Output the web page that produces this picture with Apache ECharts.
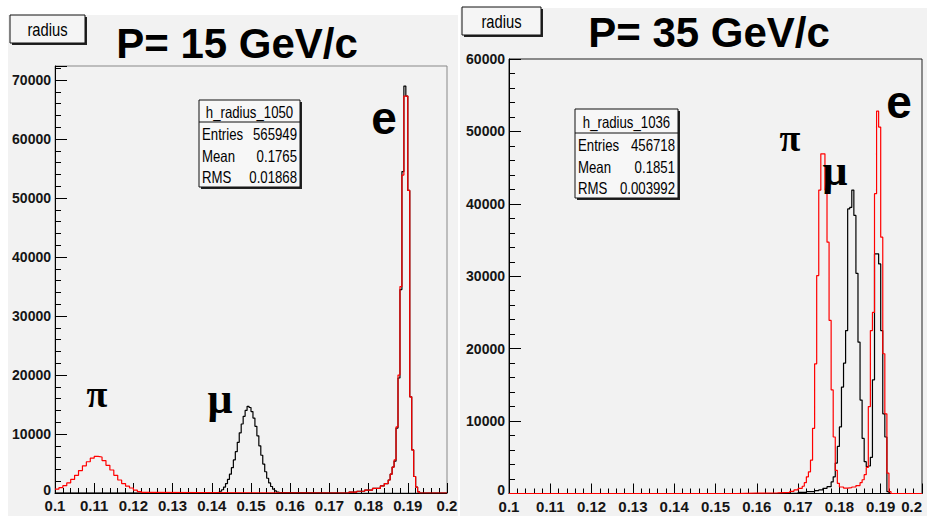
<!DOCTYPE html>
<html>
<head>
<meta charset="utf-8">
<script src="https://cdn.jsdelivr.net/npm/echarts@6/dist/echarts.min.js"></script>
<style>
html,body{margin:0;padding:0;background:#fff;}
#wrap{position:relative;width:927px;height:516px;overflow:hidden;background:#fff;}
.pad{position:absolute;background:#f2f2f2;}
#chart{position:absolute;left:0;top:0;width:927px;height:516px;}
</style>
</head>
<body>
<div id="wrap">
  <div class="pad" style="left:8px;top:15px;width:450px;height:501px;"></div>
  <div class="pad" style="left:460px;top:8px;width:467px;height:508px;"></div>
  <div id="chart"></div>
</div>
<script>
// ---------------- DATA ----------------
// Left pad: P = 15 GeV/c  (bin left edges and contents)
const leftRedX = [0.100,0.101,0.102,0.103,0.104,0.105,0.106,0.107,0.108,0.109,0.110,0.111,0.112,0.113,0.114,0.115,0.116,0.117,0.118,0.119,0.120,0.121,0.122,0.123,
  0.175,0.177,0.179,0.181,0.183,0.184,0.185,0.1855,0.186,0.1865,0.187,0.1875,0.188,0.1885,0.189,0.1895,0.190,0.1905,0.191,0.1915,0.192,0.1925,0.193,0.200];
const leftRedY = [650,900,1250,1700,2300,3000,3800,4600,5300,5900,6200,6100,5500,4700,3900,3000,2200,1600,1150,850,500,250,100,0,
  150,300,500,800,1200,1600,2200,3200,4400,5600,11200,20000,35000,53900,67300,67300,51300,16300,7300,2800,1000,200,0,0];

const leftBlackX = [0.100,0.141,0.1415,0.142,0.1425,0.143,0.1435,0.144,0.1445,0.145,0.1455,0.146,0.1465,0.147,0.1475,0.148,0.1485,0.149,0.1495,0.150,0.1505,0.151,0.1515,0.152,0.1525,0.153,0.1535,0.154,0.1545,0.155,0.1555,0.156,0.1565,0.157,0.1575,
  0.175,0.177,0.179,0.181,0.183,0.184,0.185,0.1855,0.186,0.1865,0.187,0.1875,0.188,0.1885,0.189,0.1895,0.190,0.1905,0.191,0.1915,0.192,0.1925,0.193,0.200];
const leftBlackY = [0,50,150,300,550,1000,1600,2300,3200,4300,5600,7000,8600,10200,11700,13000,14000,14700,14500,13800,12700,11300,9700,8000,6400,4900,3600,2500,1700,1100,650,350,150,50,0,
  150,300,500,800,1200,1600,2200,3200,4400,5400,11000,19500,34500,54500,69000,67300,51300,16300,7300,2800,1000,200,0,0];

// Right pad: P = 35 GeV/c
const rightRedX = [0.100,0.155,0.160,0.165,0.168,0.169,0.170,0.171,0.1715,0.172,0.1725,0.173,0.1735,0.174,0.1745,0.175,0.1755,0.176,0.1765,0.177,0.1775,0.178,0.1785,0.179,0.1795,
  0.180,0.181,0.182,0.183,0.184,0.185,0.1855,0.186,0.1865,0.187,0.1875,0.188,0.1885,0.189,0.1895,0.190,0.1905,0.191,0.1915,0.192,0.1925,0.200];
const rightRedY = [0,50,80,150,300,500,700,1000,1500,2300,3000,4600,9000,17900,30100,41900,46900,46900,41900,34700,23900,14300,7800,3200,1400,
  900,750,800,900,1100,1500,1900,2600,3600,12000,22500,25000,41400,52800,50600,35400,19300,11000,2800,250,0,0];

const rightBlackX = [0.100,0.165,0.170,0.172,0.174,0.175,0.176,0.177,0.178,0.1785,0.179,0.1795,0.180,0.1805,0.181,0.1815,0.182,0.1825,0.183,0.1835,0.184,0.1845,0.185,0.1855,0.186,0.1865,
  0.187,0.1875,0.188,0.1885,0.189,0.1895,0.190,0.1905,0.191,0.1915,0.192,0.200];
const rightBlackY = [0,50,150,250,400,500,700,940,1600,2300,4200,6500,9200,14700,18000,22500,39300,39500,41900,38400,30400,20900,12900,7600,4400,3700,
  3800,5000,15700,33100,33100,31700,22500,11000,7800,250,0,0];

// Axis settings / labels
const xMin = 0.1, xMax = 0.2, xStep = 0.01;
const leftYMax = 72400, rightYMax = 60000, yStep = 10000;
const titles = ['P= 15 GeV/c', 'P= 35 GeV/c'];
const statsLeft = {name:'h_radius_1050', rows:[['Entries','565949'],['Mean','0.1765'],['RMS','0.01868']]};
const statsRight = {name:'h_radius_1036', rows:[['Entries','456718'],['Mean','0.1851'],['RMS','0.003992']]};

// ---------------- CHART ----------------
const SANS = "'Liberation Sans',Arial,sans-serif";
const SERIF = "'Liberation Serif','Times New Roman',serif";
const NX = 0.8; // horizontal squeeze to imitate the narrow ROOT font

function pairs(xs, ys){ return xs.map((x,i)=>[x, ys[i]]); }

function xAxisCfg(gi, alignLast){
  const lab = {color:'#151515', fontFamily:SANS, fontWeight:'bold', fontSize:15, margin:5,
      formatter: v => String(+v.toFixed(3))};
  if (alignLast) lab.alignMaxLabel = 'right';
  return {
    type:'value', gridIndex:gi, min:xMin, max:xMax, interval:xStep,
    axisLine:{show:true, onZero:false, lineStyle:{color:'#000', width:1}},
    axisTick:{show:true, inside:true, length:10, lineStyle:{color:'#000'}},
    minorTick:{show:true, splitNumber:5, length:5, lineStyle:{color:'#000'}},
    splitLine:{show:false},
    axisLabel: lab
  };
}
function yAxisCfg(gi, max, showMax){
  return {
    type:'value', gridIndex:gi, min:0, max:max, interval:yStep,
    axisLine:{show:true, lineStyle:{color:'#000', width:1}},
    axisTick:{show:true, inside:true, length:12, lineStyle:{color:'#000'}},
    minorTick:{show:true, splitNumber:5, length:6, lineStyle:{color:'#000'}},
    splitLine:{show:false},
    axisLabel:{color:'#151515', fontFamily:SANS, fontWeight:'bold', fontSize:14, margin:4, showMaxLabel:showMax,
      formatter: v => (v === 0 ? '{z|0}' : (v % yStep === 0 ? String(v) : '')),
      rich:{z:{fontFamily:SANS, fontWeight:'bold', fontSize:14, color:'#151515', padding:[0,0,7,0]}}}
  };
}
function hist(xi, xs, ys, color){
  return {
    type:'line', xAxisIndex:xi, yAxisIndex:xi, data:pairs(xs,ys), step:'end',
    showSymbol:false, symbol:'none', animation:false, silent:true,
    lineStyle:{color:color, width:1.2}, z: color === '#ff0000' ? 4 : 3
  };
}
function txt(t, x, y, font, align, sx){
  return {type:'text', x:x, y:y, scaleX:sx || 1, style:{text:t, font:font, fill:'#000', textAlign:align, textVerticalAlign:'middle'}, z:102};
}
function statsBox(x, y, w, h, hdr, s){
  const els = [];
  els.push({type:'rect', shape:{x:x+2, y:y+2, width:w, height:h}, style:{fill:'#222'}, z:100});
  els.push({type:'rect', shape:{x:x, y:y, width:w, height:h}, style:{fill:'#f7f7f7', stroke:'#111', lineWidth:1}, z:101});
  els.push({type:'line', shape:{x1:x, y1:y+hdr, x2:x+w, y2:y+hdr}, style:{stroke:'#111', lineWidth:1}, z:102});
  els.push(txt(s.name, x+w/2, y+hdr/2+1, '16.5px '+SANS, 'center', NX));
  const rowH = (h-hdr)/3;
  s.rows.forEach((r,i)=>{
    const cy = y+hdr+rowH*(i+0.5)+1;
    els.push(txt(r[0], x+3, cy, '16.5px '+SANS, 'left', NX));
    els.push(txt(r[1], x+w-3, cy, '16.5px '+SANS, 'right', NX));
  });
  return els;
}
function nameBox(x, y, w, h){
  return [
    {type:'rect', shape:{x:x+2, y:y+2, width:w, height:h}, style:{fill:'#222'}, z:100},
    {type:'rect', shape:{x:x, y:y, width:w, height:h}, style:{fill:'#f5f5f5', stroke:'#111', lineWidth:1}, z:101},
    txt('radius', x+w/2, y+h/2, '18px '+SANS, 'center', 0.82)
  ];
}
function label(t, x, y, font){
  return {type:'text', x:x, y:y, style:{text:t, font:font, fill:'#000', textAlign:'center', textVerticalAlign:'middle'}, z:105};
}

const graphics = [].concat(
  nameBox(10, 15, 75, 28),
  nameBox(462, 7, 79, 28),
  statsBox(199, 100, 101, 87, 22, statsLeft),
  statsBox(575, 109, 103, 89, 24, statsRight),
  [
    label(titles[0], 237, 43, 'bold 42px '+SANS),
    label(titles[1], 709, 32, 'bold 42px '+SANS),
    label('π', 97, 394, 'bold 38px '+SERIF),
    label('μ', 220, 398, 'bold 44px '+SERIF),
    label('e', 384, 118, 'bold 46px '+SANS),
    label('π', 790, 138, 'bold 38px '+SERIF),
    label('μ', 835, 170, 'bold 44px '+SERIF),
    label('e', 899, 102, 'bold 46px '+SANS)
  ]
);

const chart = echarts.init(document.getElementById('chart'), null, {renderer:'svg', width:927, height:516});
chart.setOption({
  backgroundColor:'transparent',
  animation:false,
  grid:[
    {left:55, top:66, width:392, height:427, outerBoundsMode:'none', containLabel:false, show:true, borderColor:'#888', borderWidth:1, backgroundColor:'transparent'},
    {left:509, top:59, width:413, height:434.5, outerBoundsMode:'none', containLabel:false, show:true, borderColor:'#222', borderWidth:1, backgroundColor:'transparent'}
  ],
  xAxis:[xAxisCfg(0, false), xAxisCfg(1, true)],
  yAxis:[yAxisCfg(0, leftYMax, false), yAxisCfg(1, rightYMax, true)],
  series:[
    hist(0, leftBlackX, leftBlackY, '#000000'),
    hist(0, leftRedX, leftRedY, '#ff0000'),
    hist(1, rightBlackX, rightBlackY, '#000000'),
    hist(1, rightRedX, rightRedY, '#ff0000')
  ],
  graphic: graphics
});
</script>
</body>
</html>
